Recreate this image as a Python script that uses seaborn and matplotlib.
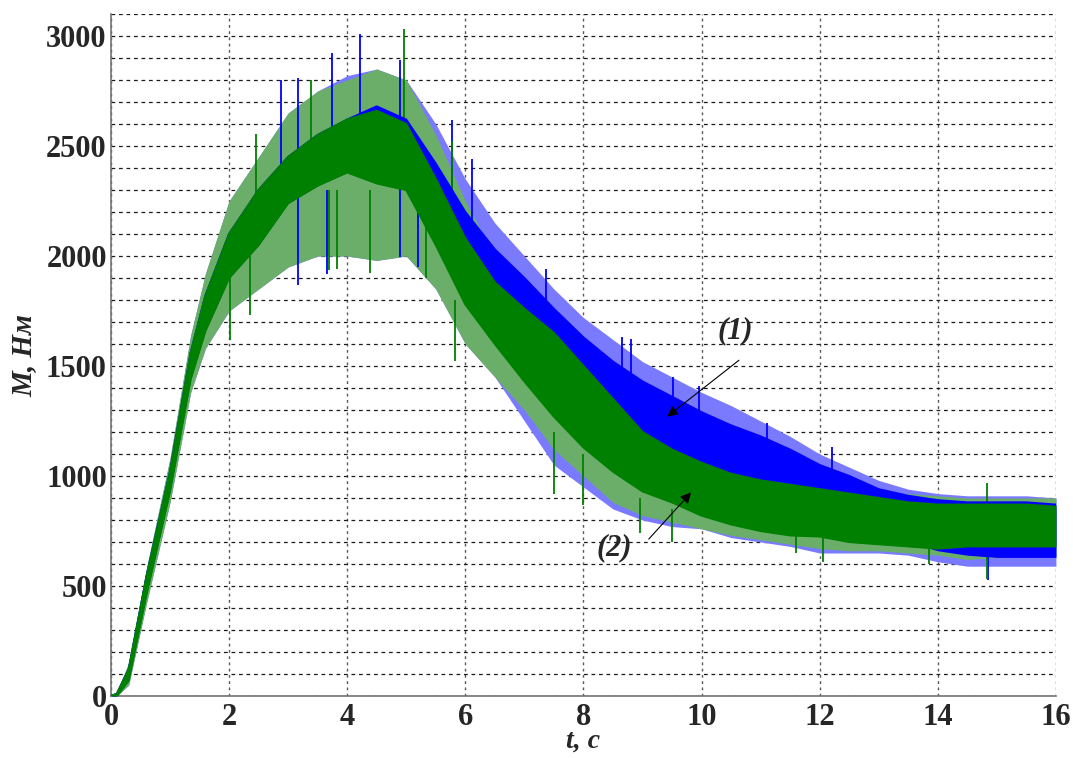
import numpy as np
import pandas as pd
import matplotlib
matplotlib.use("Agg")
import matplotlib.pyplot as plt
import seaborn as sns
from matplotlib.ticker import MultipleLocator

# envelope sample times, s
t_env = [0, 0.1, 0.3, 0.6, 1.0, 1.35, 1.6, 2.0, 2.5, 3.0, 3.5, 4.0, 4.5, 5.0, 5.5,
         6.0, 6.5, 7.0, 7.5, 8.0, 8.5, 9.0, 9.5, 10.0, 10.5, 11.0, 11.5, 12.0,
         12.5, 13.0, 13.5, 14.0, 14.5, 15.0, 15.5, 16.0]

# (1) blue: dense core of the noisy band and its outer (spike) envelope, Nm
blue_core_hi = [0, 10, 120, 540, 1020, 1560, 1820, 2100, 2300, 2450, 2550, 2620, 2680, 2620, 2420,
                2200, 2030, 1900, 1760, 1630, 1520, 1430, 1360, 1290, 1230, 1180, 1120, 1050,
                1000, 940, 910, 890, 880, 880, 880, 870]
blue_core_lo = [0, 0, 70, 460, 930, 1440, 1660, 1900, 2050, 2240, 2320, 2380, 2330, 2300, 2050,
                1780, 1600, 1430, 1270, 1130, 1020, 930, 880, 850, 800, 780, 750, 730,
                720, 710, 700, 660, 640, 630, 630, 630]
blue_out_hi = [0, 20, 150, 580, 1080, 1640, 1920, 2250, 2450, 2650, 2750, 2820, 2850, 2800, 2600,
               2350, 2150, 2000, 1850, 1720, 1620, 1520, 1450, 1380, 1320, 1250, 1180, 1100,
               1040, 980, 940, 920, 910, 910, 910, 900]
blue_out_lo = [0, 0, 50, 420, 880, 1380, 1580, 1750, 1850, 1950, 2000, 2000, 1980, 2000, 1850,
               1600, 1450, 1250, 1050, 950, 850, 800, 770, 760, 720, 700, 680, 650,
               650, 650, 640, 610, 590, 590, 590, 590]

# (2) green
green_core_hi = [0, 10, 120, 540, 1020, 1560, 1820, 2100, 2300, 2450, 2550, 2620, 2660, 2600, 2350,
                 2080, 1880, 1760, 1650, 1500, 1350, 1200, 1120, 1060, 1010, 980, 960, 940,
                 920, 900, 880, 870, 870, 870, 870, 860]
green_core_lo = [0, 0, 70, 460, 930, 1440, 1660, 1900, 2050, 2240, 2320, 2380, 2330, 2300, 2050,
                 1780, 1600, 1430, 1270, 1130, 1020, 930, 880, 820, 780, 750, 730, 725,
                 700, 690, 680, 670, 680, 680, 680, 680]
green_out_hi = [0, 20, 150, 580, 1080, 1640, 1920, 2250, 2450, 2650, 2750, 2800, 2850, 2800, 2550,
                2250, 2000, 1850, 1750, 1620, 1450, 1300, 1200, 1130, 1070, 1030, 1000, 980,
                960, 930, 920, 910, 900, 900, 900, 900]
green_out_lo = [0, 0, 50, 420, 880, 1380, 1580, 1750, 1850, 1950, 2000, 2000, 1980, 2000, 1850,
                1600, 1450, 1300, 1120, 1000, 880, 820, 790, 760, 730, 710, 690, 670,
                660, 660, 650, 640, 620, 630, 640, 640]

# single spikes: time, bottom, top
blue_spk_t = [2.88, 3.17, 3.17, 3.65, 3.75, 4.22, 4.9, 4.9, 5.2, 5.78, 6.12, 7.36, 8.66, 8.8, 9.52,
              9.95, 11.1, 12.2, 14.85]
blue_spk_lo = [2400, 2400, 1870, 1920, 2400, 2500, 2500, 1995, 1950, 2300, 2100, 1700, 1450, 1450, 1300,
               1250, 1050, 950, 527]
blue_spk_hi = [2800, 2810, 2300, 2300, 2925, 3010, 2890, 2400, 2300, 2620, 2440, 1940, 1630, 1625, 1450,
               1410, 1240, 1130, 650]

green_spk_t = [2.02, 2.35, 2.45, 3.38, 3.7, 3.82, 4.38, 4.96, 5.33, 5.77, 5.82, 7.5, 8.0, 8.96, 9.5,
               10.0, 11.6, 12.05, 13.85, 14.84, 14.84]
green_spk_lo = [1620, 1730, 2200, 2400, 1935, 1940, 1925, 2450, 1900, 2200, 1525, 920, 870, 740, 700,
                950, 650, 610, 600, 530, 800]
green_spk_hi = [1950, 2000, 2555, 2800, 2300, 2300, 2300, 3030, 2200, 2525, 1800, 1200, 1100, 900, 850,
                1180, 750, 750, 700, 700, 970]

x_ticks = [0, 2, 4, 6, 8, 10, 12, 14, 16]
y_ticks = [0, 500, 1000, 1500, 2000, 2500, 3000]

sns.set_style("white")
plt.rcParams['font.family'] = ['Liberation Serif', 'DejaVu Serif']

fig = plt.figure(figsize=(10.73, 7.58), dpi=100)
ax = fig.add_axes([0.1034, 0.0818, 0.8807, 0.8997])

blue = "#0000ff"
green = "#008000"
blue_light = "#7a7aff"
green_light = "#6aae6a"

env = pd.DataFrame({"t": t_env,
                    "bch": blue_core_hi, "bcl": blue_core_lo, "boh": blue_out_hi, "bol": blue_out_lo,
                    "gch": green_core_hi, "gcl": green_core_lo, "goh": green_out_hi, "gol": green_out_lo})

# spike envelopes (lighter), then dense cores
ax.fill_between(env["t"], env["bol"], env["boh"], color=blue_light, lw=0, zorder=2)
ax.fill_between(env["t"], env["gol"], env["goh"], color=green_light, lw=0, zorder=2.1)
ax.vlines(blue_spk_t, blue_spk_lo, blue_spk_hi, color=blue, lw=1.3, zorder=2.2)
ax.vlines(green_spk_t, green_spk_lo, green_spk_hi, color=green, lw=1.3, zorder=2.3)

ax.fill_between(env["t"], env["bcl"], env["bch"], color=blue, lw=0, zorder=3)
sns.lineplot(data=env, x="t", y="bch", color=blue, lw=1.5, ax=ax, zorder=3)

ax.fill_between(env["t"], env["gcl"], env["gch"], color=green, lw=0, zorder=3.1)
sns.lineplot(data=env, x="t", y="gch", color=green, lw=1.5, ax=ax, zorder=3.1)
sns.lineplot(data=env, x="t", y="gcl", color=green, lw=1.5, ax=ax, zorder=3.1)

ax.set_xlim(0, 16)
ax.set_ylim(0, 3100)
ax.set_xticks(x_ticks)
ax.set_yticks(y_ticks)
ax.yaxis.set_minor_locator(MultipleLocator(100))

ax.grid(True, which="major", axis="x", color="0.35", ls=(0, (2, 2.5)), lw=1)
ax.grid(True, which="both", axis="y", color="0.1", ls=(0, (3, 3)), lw=0.9)
ax.set_axisbelow(True)

for s in ["top", "right"]:
    ax.spines[s].set_visible(False)
for s in ["left", "bottom"]:
    ax.spines[s].set_color("0.45")
    ax.spines[s].set_linewidth(1.2)

ax.tick_params(axis="both", which="major", direction="in", length=5, width=1, color="0.3",
               labelsize=22)
ax.tick_params(axis="y", which="minor", length=0)
ax.tick_params(axis="x", pad=5)
ax.tick_params(axis="y", pad=3)
for lab in ax.get_xticklabels() + ax.get_yticklabels():
    lab.set_fontweight("bold")

ax.set_xlabel("t, с", fontsize=20, fontweight="bold", style="italic", labelpad=-2)
ax.set_ylabel("M, Нм", fontsize=21, fontweight="bold", style="italic", labelpad=6)

ax.text(10.57, 1661, "(1)", fontsize=22, fontweight="bold", style="italic", ha="center", va="center")
ax.text(8.53, 672, "(2)", fontsize=22, fontweight="bold", style="italic", ha="center", va="center")
ax.annotate("", xy=(9.38, 1262), xytext=(10.67, 1534),
            arrowprops=dict(arrowstyle="-|>", lw=0.8, color="black", mutation_scale=16), zorder=5)
ax.annotate("", xy=(9.855, 935), xytext=(9.075, 704),
            arrowprops=dict(arrowstyle="-|>", lw=0.8, color="black", mutation_scale=16), zorder=5)

fig.savefig("out.png", dpi=100)
